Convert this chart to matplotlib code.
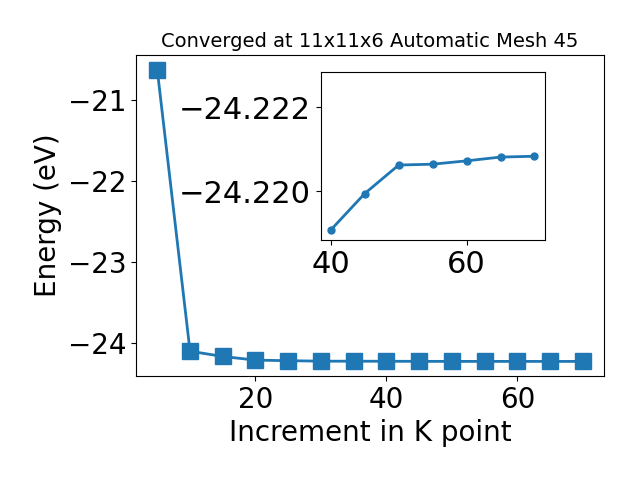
import numpy as np
import matplotlib
matplotlib.use('Agg')
import matplotlib.pyplot as plt

# k-point increments and total energies
kpts = [5, 10, 15, 20, 25, 30, 35, 40, 45, 50, 55, 60, 65, 70]
energy = [-20.63, -24.095, -24.16, -24.205, -24.212, -24.2178, -24.2184,
          -24.21907, -24.21994, -24.22062, -24.22064, -24.22072, -24.22081, -24.22083]

# zoomed region for the inset
kpts_in = kpts[7:]
energy_in = energy[7:]

fig = plt.figure(figsize=(6.4, 4.8), dpi=100)
ax = fig.add_axes([0.2125, 0.2167, 0.7315, 0.668])
ax.plot(kpts, energy, 's-', color='#1f77b4', ms=11, lw=2)
ax.set_xlabel('Increment in K point', fontsize=20)
ax.set_ylabel('Energy (eV)', fontsize=20)
ax.set_title('Converged at 11x11x6 Automatic Mesh 45', fontsize=14)
ax.tick_params(labelsize=20)
ax.set_xticks([20, 40, 60])
ax.set_yticks([-21, -22, -23, -24])

ins = fig.add_axes([0.501, 0.5, 0.35, 0.349])
ins.plot(kpts_in, energy_in, 'o-', color='#1f77b4', ms=5, lw=2)
ins.set_ylim(-24.21883, -24.22283)
ins.set_yticks([-24.222, -24.220])
ins.set_xticks([40, 60])
ins.tick_params(labelsize=22)

fig.savefig('out.png')
